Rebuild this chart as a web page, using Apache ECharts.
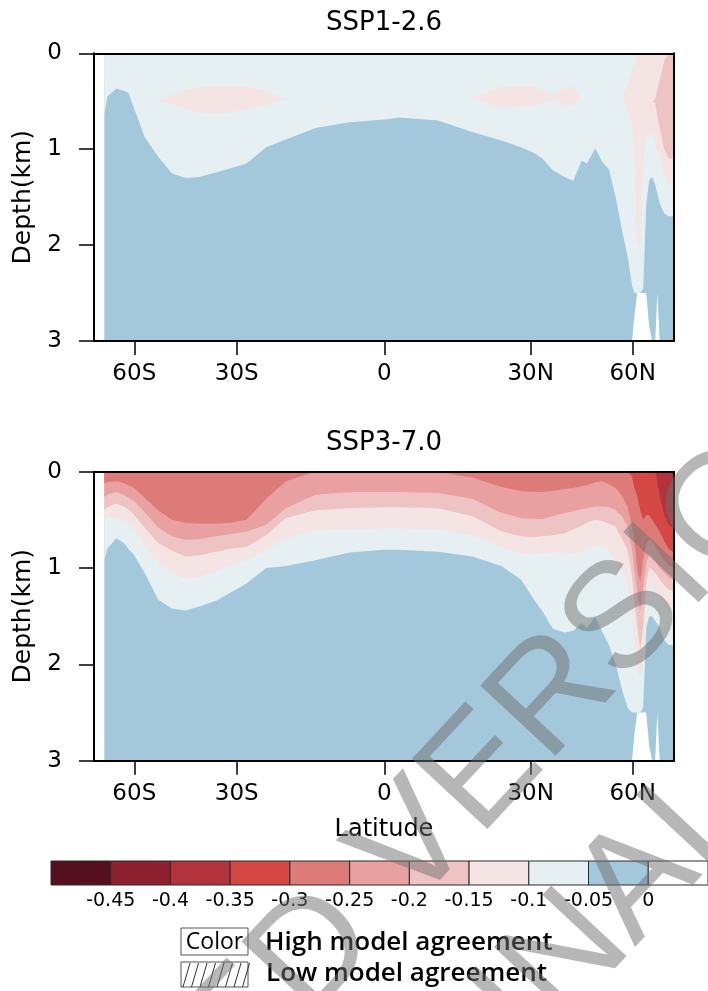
<!DOCTYPE html>
<html><head><meta charset="utf-8">
<script src="https://cdn.jsdelivr.net/npm/echarts@6/dist/echarts.min.js"></script>
<style>html,body{margin:0;padding:0;background:#fff}#c{width:708px;height:991px}</style>
</head><body><div id="c"></div>
<script>
// ---------------- data ----------------
const latitudes = [-70,-69,-66,-63.5,-62,-60,-57,-53,-49,-45, -41,-36,-32,-28,-24,-20,-14,-7,0,3,
  11,18,24,28,31,33.5,36.5,40,42.5,45, 46.5,49,51,53,55,57,58.5,59.8,60.5,61.5,
  62.5,63.5,64.5,65.5,66.5,67.5,68.2,69,70.5,72, 74];
const tickLats = [-60,-30,0,30,60];
const tickLabels = ['60S','30S','0','30N','60N'];
const depthTicks = [0,1,2,3];
const levelColors = ['#54101f','#8e2130','#b3333c','#d44745','#dc7b78','#e8a1a0','#eec3c4','#f5e4e4','#e6f0f3','#a3c8dc','#ffffff'];
const levelLabels = ['-0.45','-0.4','-0.35','-0.3','-0.25','-0.2','-0.15','-0.1','-0.05','0'];

// SSP1-2.6 : depth (km) of the lower edge of each band, top to bottom (null = band absent)
const ssp126_light1 = [0.3,0.3,0.3,0.3,0.3,0.35,0.45,0.50,0.44,0.38, 0.35,0.34,0.34,0.35,0.39,0.48,0.48,0.4,0.4,0.4,
  0.4,0.46,0.35,0.34,0.34,0.38,0.43,0.36,0.35,0.45, 0.4,0.4,0.4,0.4,0.4,0.45,0.32,0.18,0.10,0,
  0,0,0,0,0,0,0,0,0,0, 0];
const ssp126_pink1 = [null,null,null,null,null,null,null,0.50,0.53,0.58, 0.62,0.63,0.62,0.58,0.54,0.48,null,null,null,null,
  null,0.46,0.57,0.56,0.55,0.52,0.48,0.54,0.55,0.45, null,null,null,null,null,0.45,0.59,0.74,1.03,2.0,
  2.03,1.16,0.87,0.82,0.5,0.48,0.38,0.28,0.08,0, 0];
const ssp126_rose = [null,null,null,null,null,null,null,null,null,null, null,null,null,null,null,null,null,null,null,null,
  null,null,null,null,null,null,null,null,null,null, null,null,null,null,null,null,null,null,null,null,
  null,null,null,null,0.5,0.52,0.65,0.78,1.0,1.10, 1.09];
const ssp126_pink2 = [null,null,null,null,null,null,null,null,null,null, null,null,null,null,null,null,null,null,null,null,
  null,null,null,null,null,null,null,null,null,null, null,null,null,null,null,null,null,null,null,null,
  null,null,0.87,0.82,0.87,0.94,1.02,1.10,1.27,1.36, 1.37];
const ssp126_light2 = [0.65,0.45,0.37,0.39,0.41,0.58,0.87,1.08,1.25,1.30, 1.29,1.24,1.20,1.15,0.98,0.90,0.78,0.72,0.69,0.67,
  0.70,0.82,0.91,0.98,1.04,1.10,1.22,1.29,1.33,1.12, 1.15,0.99,1.13,1.21,1.50,1.87,2.12,2.42,2.5,2.5,
  2.5,2.45,1.58,1.32,1.29,1.37,1.46,1.56,1.67,1.70, 1.70];
const ssp126_blue = [3,3,3,3,3,3,3,3,3,3, 3,3,3,3,3,3,3,3,3,3,
  3,3,3,3,3,3,3,3,3,3, 3,3,3,3,3,3,3,3,2.75,2.5,
  2.5,2.5,2.5,2.85,3,3,2.5,3,3,3, 3];

// SSP3-7.0
const ssp370_c2 = [0,0,0,0,0,0,0,0,0,0, 0,0,0,0,0,0,0,0,0,0,
  0,0,0,0,0,0,0,0,0,0, 0,0,0,0,0,0,0,0,0,0,
  0,0,0,0,0,0,0.1,0.25,0.45,0.55, 0.6];
const ssp370_c3 = [0,0,0,0,0,0,0,0,0,0, 0,0,0,0,0,0,0,0,0,0,
  0,0,0,0,0,0,0,0,0,0, 0,0,0,0,0,0,0,0.05,0.17,0.25,
  0.40,0.50,0.45,0.45,0.50,0.55,0.58,0.62,0.72,0.80, 0.85];
const ssp370_c4 = [0.12,0.11,0.10,0.12,0.14,0.17,0.27,0.40,0.50,0.53, 0.54,0.54,0.53,0.50,0.28,0.10,0,0,0,0,
  0,0.06,0.16,0.20,0.21,0.21,0.20,0.18,0.17,0.15, 0.14,0.11,0.10,0.13,0.17,0.26,0.36,0.57,0.71,1.00,
  1.15,0.92,0.75,0.70,0.72,0.78,0.81,0.85,0.92,0.97, 1.00];
const ssp370_c5 = [0.26,0.24,0.21,0.24,0.27,0.31,0.42,0.58,0.67,0.71, 0.70,0.67,0.65,0.62,0.55,0.38,0.24,0.21,0.21,0.21,
  0.22,0.28,0.43,0.48,0.49,0.49,0.46,0.43,0.41,0.39, 0.38,0.36,0.36,0.37,0.40,0.47,0.57,0.81,1.00,1.25,
  1.45,1.20,0.95,0.85,0.88,0.92,0.96,1.00,1.05,1.10, 1.12];
const ssp370_c6 = [0.40,0.37,0.33,0.36,0.39,0.45,0.58,0.74,0.82,0.88, 0.87,0.83,0.80,0.78,0.66,0.48,0.40,0.38,0.37,0.37,
  0.38,0.46,0.62,0.67,0.68,0.67,0.66,0.64,0.60,0.56, 0.53,0.50,0.51,0.54,0.57,0.71,0.81,1.09,1.30,1.60,
  1.85,1.60,1.15,1.00,1.02,1.05,1.08,1.12,1.18,1.22, 1.25];
const ssp370_c7 = [0.50,0.48,0.47,0.50,0.53,0.60,0.76,0.95,1.05,1.12, 1.09,1.04,0.98,0.92,0.81,0.69,0.61,0.60,0.59,0.59,
  0.60,0.66,0.79,0.85,0.86,0.85,0.84,0.84,0.86,0.83, 0.79,0.77,0.76,0.82,0.92,1.02,1.16,1.50,1.75,2.05,
  2.15,2.00,1.40,1.20,1.20,1.25,1.27,1.30,1.38,1.42, 1.45];
const ssp370_c8 = [0.92,0.80,0.69,0.74,0.80,0.87,1.05,1.33,1.42,1.44, 1.40,1.34,1.26,1.16,1.00,0.98,0.92,0.84,0.81,0.81,
  0.83,0.88,0.98,1.12,1.33,1.45,1.63,1.67,1.65,1.57, 1.62,1.51,1.66,1.80,2.00,2.28,2.45,2.50,2.50,2.50,
  2.50,2.45,1.62,1.50,1.50,1.55,1.58,1.62,1.75,1.80, 1.80];
const ssp370_c9 = [3,3,3,3,3,3,3,3,3,3, 3,3,3,3,3,3,3,3,3,3,
  3,3,3,3,3,3,3,3,3,3, 3,3,3,3,3,3,3,3,2.75,2.5,
  2.5,2.5,2.5,2.85,3,3,2.5,3,3,3, 3];

// ---------------- latitude projection of the axis ----------------
const projLat = [-90,-60,-30,0,30,60,90];
const projPos = [-340,-250,-147.6,0,146.4,248.4,338.4];
function latToX(lat){
  for (let i=0;i<projLat.length-1;i++){
    if (lat<=projLat[i+1]) {
      const t=(lat-projLat[i])/(projLat[i+1]-projLat[i]);
      return projPos[i]+t*(projPos[i+1]-projPos[i]);
    }
  }
  return projPos[projPos.length-1];
}
const tickX = tickLats.map(latToX);
const X_MIN = -290.3, X_MAX = 289.7;

// ---------------- chart ----------------
const FONT = 'DejaVu Sans';
function bandSeries(name, bottoms, color, axisIdx){
  return {
    name, type:'line', xAxisIndex:axisIdx, yAxisIndex:axisIdx,
    data: latitudes.map((l,i)=>[latToX(l), bottoms[i]]),
    showSymbol:false, symbol:'none', silent:true, connectNulls:false,
    lineStyle:{width:0, opacity:0},
    areaStyle:{color, opacity:1, origin:'start'},
    clip:true, animation:false
  };
}
const C = levelColors;
// draw deepest band first so shallower bands paint over it
const series = [
  bandSeries('126-blue', ssp126_blue, C[9], 0),
  bandSeries('126-light2', ssp126_light2, C[8], 0),
  bandSeries('126-pink2', ssp126_pink2, C[7], 0),
  bandSeries('126-rose', ssp126_rose, C[6], 0),
  bandSeries('126-pink1', ssp126_pink1, C[7], 0),
  bandSeries('126-light1', ssp126_light1, C[8], 0),

  bandSeries('370-c9', ssp370_c9, C[9], 2),
  bandSeries('370-c8', ssp370_c8, C[8], 2),
  bandSeries('370-c7', ssp370_c7, C[7], 2),
  bandSeries('370-c6', ssp370_c6, C[6], 2),
  bandSeries('370-c5', ssp370_c5, C[5], 2),
  bandSeries('370-c4', ssp370_c4, C[4], 2),
  bandSeries('370-c3', ssp370_c3, C[3], 2),
  bandSeries('370-c2', ssp370_c2, C[2], 2),
  {
    type:'custom', xAxisIndex:4, yAxisIndex:4, silent:true, animation:false,
    data: levelColors.map((c,i)=>({value:[i,i+1], itemStyle:{color:c}})),
    renderItem:(params, api)=>{
      const p0 = api.coord([api.value(0),0]);
      const p1 = api.coord([api.value(1),1]);
      return {type:'rect', shape:{x:p0[0], y:p1[1], width:p1[0]-p0[0], height:p0[1]-p1[1]},
        style:{fill:api.visual('color'), stroke:'#2a2a2a', lineWidth:1}};
    }
  }
];

function xLabel(v){
  for (let i=0;i<tickX.length;i++) if (Math.abs(tickX[i]-v)<0.01) return tickLabels[i];
  return '';
}
const lineStyle = {color:'#000', width:2};
function panelAxes(gridIndex, withName){
  const xb = {
    gridIndex, type:'value', min:X_MIN, max:X_MAX, position:'bottom', z:10,
    axisLine:{show:true, onZero:false, lineStyle},
    axisTick:{show:true, customValues:tickX, length:14, lineStyle:{color:'#000', width:1.5}},
    axisLabel:{show:true, customValues:tickX, formatter:xLabel, fontSize:23, fontFamily:FONT, color:'#000', margin:22, lineHeight:23},
    splitLine:{show:false}
  };
  if (withName){
    xb.name='Latitude'; xb.nameLocation='middle'; xb.nameGap=57;
    xb.nameTextStyle={fontSize:24, fontFamily:FONT, color:'#000', lineHeight:24};
  }
  const xt = {gridIndex, type:'value', min:X_MIN, max:X_MAX, position:'top', z:10,
    axisLine:{show:true, onZero:false, lineStyle}, axisTick:{show:false}, axisLabel:{show:false}, splitLine:{show:false}};
  const yl = {gridIndex, type:'value', inverse:true, min:depthTicks[0], max:depthTicks[depthTicks.length-1], interval:1, position:'left', z:10,
    axisLine:{show:true, onZero:false, lineStyle},
    axisTick:{show:true, length:15, lineStyle:{color:'#000', width:1.5}},
    axisLabel:{fontSize:23, fontFamily:FONT, color:'#000', margin:32},
    splitLine:{show:false},
    name:'Depth(km)', nameLocation:'middle', nameGap:51,
    nameTextStyle:{fontSize:25, fontFamily:FONT, color:'#000', lineHeight:25}};
  const yr = {gridIndex, type:'value', inverse:true, min:0, max:3, position:'right', z:10,
    axisLine:{show:true, onZero:false, lineStyle}, axisTick:{show:false}, axisLabel:{show:false}, splitLine:{show:false}};
  return {x:[xb, xt], y:[yl, yr]};
}
const a0 = panelAxes(0, false), a1 = panelAxes(1, true);

const WM_ANGLE = 47*Math.PI/180;
const wmStyle = {fill:'rgba(112,112,112,0.5)', font:'150px "Liberation Sans"', align:'center', verticalAlign:'middle', textAlign:'center', textVerticalAlign:'middle'};
const hatch = [];
for (let k=0;k<8;k++){
  hatch.push({type:'line', shape:{x1:183+k*8.5, y1:987, x2:190+k*8.5, y2:963}, style:{stroke:'#333', lineWidth:1}, z:5});
}
const centered = {align:'center', verticalAlign:'middle', textAlign:'center', textVerticalAlign:'middle'};
const leftMid = {align:'left', verticalAlign:'middle', textAlign:'left', textVerticalAlign:'middle'};

const option = {
  animation:false,
  backgroundColor:'#fff',
  grid:[
    {left:94, top:53.3, width:580, height:287.7},
    {left:94, top:471.7, width:580, height:289},
    {left:51, top:861, width:667.7, height:24}
  ],
  xAxis:[...a0.x, ...a1.x,
    {gridIndex:2, type:'value', min:0, max:11, position:'bottom',
     axisLine:{show:false}, axisTick:{show:false}, splitLine:{show:false},
     axisLabel:{customValues:[1,2,3,4,5,6,7,8,9,10], formatter:v=>levelLabels[Math.round(v)-1]||'', fontSize:19, fontFamily:FONT, color:'#000', margin:7, lineHeight:19}}
  ],
  yAxis:[...a0.y, ...a1.y,
    {gridIndex:2, type:'value', min:0, max:1, show:false}
  ],
  series,
  graphic:[
    {type:'text', x:384, y:23, style:Object.assign({text:'SSP1-2.6', font:'26px "DejaVu Sans"', fill:'#000'}, centered)},
    {type:'text', x:384, y:443, style:Object.assign({text:'SSP3-7.0', font:'26px "DejaVu Sans"', fill:'#000'}, centered)},
    {type:'rect', shape:{x:181, y:928, width:67, height:27}, style:{fill:'#fff', stroke:'#555', lineWidth:1}, z:5},
    {type:'text', x:214.5, y:942, style:Object.assign({text:'Color', font:'500 23px "Open Sans"', fill:'#000'}, centered), z:6},
    {type:'text', x:265, y:943, style:Object.assign({text:'High model agreement', font:'600 26px "Open Sans"', fill:'#000'}, leftMid), z:6},
    {type:'rect', shape:{x:181, y:962, width:67, height:25}, style:{fill:'#fff', stroke:'#555', lineWidth:1}, z:5},
    ...hatch,
    {type:'text', x:266, y:974, style:Object.assign({text:'Low model agreement', font:'600 26px "Open Sans"', fill:'#000'}, leftMid), z:6},
    {type:'text', x:318, y:950, rotation:WM_ANGLE, style:Object.assign({text:'ACCEPTED VERSION'}, wmStyle), z:100},
    {type:'text', x:418, y:1119, rotation:WM_ANGLE, style:Object.assign({text:'SUBJECT TO FINAL EDITS'}, wmStyle), z:100}
  ]
};
const chart = echarts.init(document.getElementById('c'), null, {renderer:'canvas'});
chart.setOption(option);
</script>
</body></html>
